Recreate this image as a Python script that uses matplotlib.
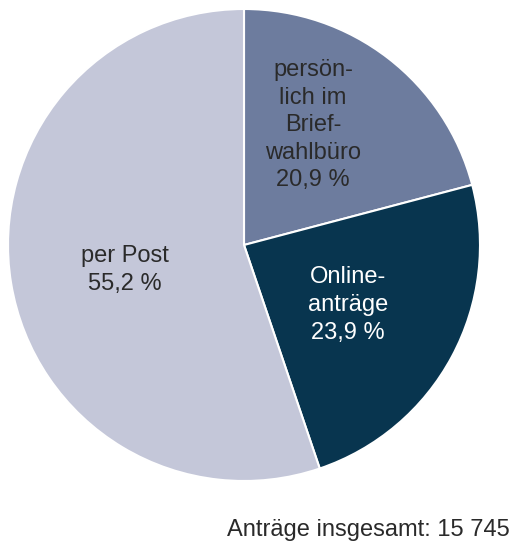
import matplotlib.pyplot as plt

plt.rcParams['font.family'] = ['Liberation Sans', 'DejaVu Sans']

labels = ["persön-\nlich im\nBrief-\nwahlbüro\n20,9 %", "Online-\nanträge\n23,9 %", "per Post\n55,2 %"]
values = [20.9, 23.9, 55.2]
colors = ["#6d7c9e", "#08354f", "#c4c7d9"]
text_colors = ["#2a2a2a", "white", "#2a2a2a"]
label_pos = [(0.292, 0.508), (0.44, -0.254), (-0.504, -0.106)]
total_text = "Anträge insgesamt: 15 745"

W, H = 511, 545
fig = plt.figure(figsize=(W / 100, H / 100), dpi=100)
cx, cy, r = 244, 245, 236
ax = fig.add_axes([(cx - r) / W, (H - cy - r) / H, 2 * r / W, 2 * r / H])

ax.pie(values, colors=colors, startangle=90, counterclock=False, radius=1,
       wedgeprops=dict(edgecolor="white", linewidth=1.5))
for lab, (x, y), c in zip(labels, label_pos, text_colors):
    ax.text(x, y, lab, ha="center", va="center", color=c, fontsize=17, linespacing=1.33)
ax.set_xlim(-1, 1)
ax.set_ylim(-1, 1)
ax.set_aspect("equal")
ax.axis("off")

fig.text(510 / W, 1 - 530 / H, total_text, ha="right", va="center", fontsize=17, color="#2a2a2a")

fig.savefig("out.png", dpi=100)
